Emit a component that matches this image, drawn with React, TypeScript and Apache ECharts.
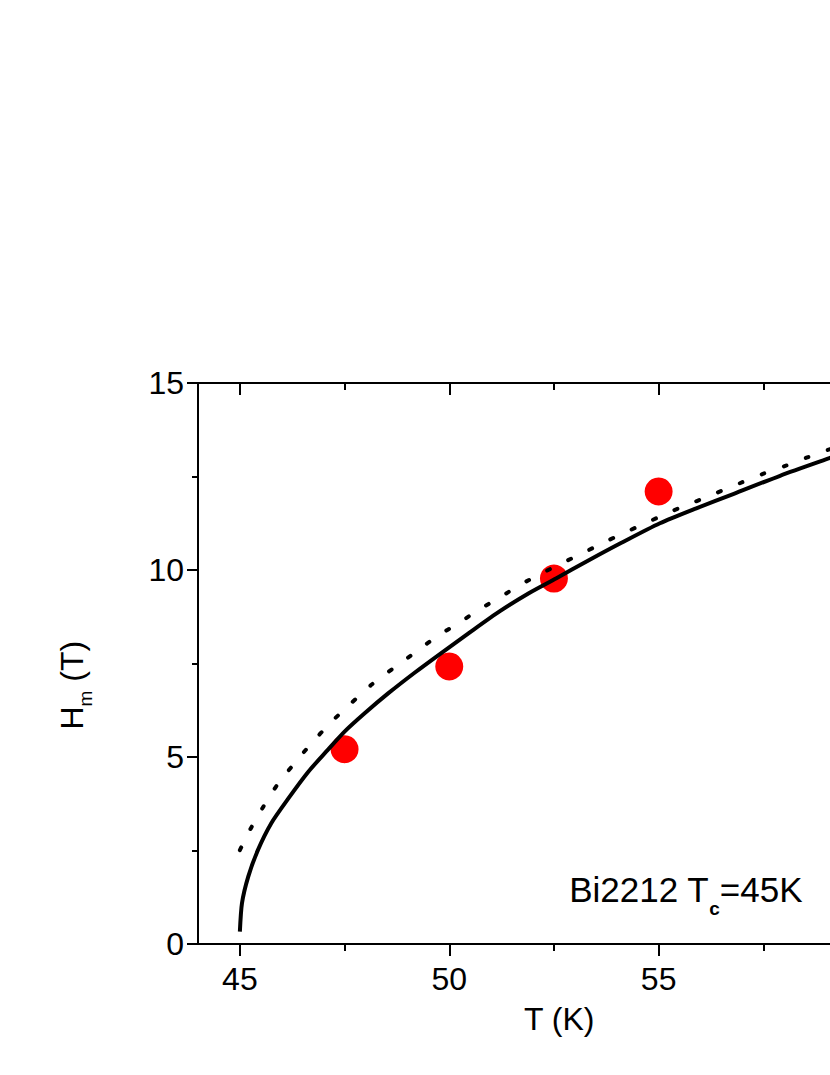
import React, { useEffect, useRef } from "react";
import * as echarts from "echarts";

// ---- data ----
const xMajorTicks = [45, 50, 55, 60];
const xLabelValues = [45, 50, 55];
const xMinorTicks = [47.5, 52.5, 57.5];

const pointT = [47.5, 50, 52.5, 55];
const pointH = [5.21, 7.42, 9.77, 12.1];

const solidT = [45.0, 45.05, 45.2, 45.43, 45.75, 46.15, 46.63, 47.1, 47.5, 47.98, 48.54, 49.18, 49.76, 50.5, 51.21, 51.9, 52.56, 53.3, 54.1, 55.03, 55.9, 56.78, 57.9, 59.08, 60.0];
const solidH = [0.33, 1.09, 1.8, 2.51, 3.23, 3.88, 4.6, 5.19, 5.68, 6.17, 6.7, 7.26, 7.74, 8.34, 8.9, 9.38, 9.78, 10.24, 10.72, 11.25, 11.65, 12.03, 12.52, 12.99, 13.35];

const dottedT = [45.0, 45.26, 45.56, 45.89, 46.28, 46.69, 47.15, 47.64, 48.14, 48.66, 49.18, 49.7, 50.21, 50.73, 51.24, 51.72, 52.24, 52.76, 53.29, 53.79, 54.31, 54.82, 55.33, 55.86, 56.38, 56.94, 57.49, 58.04, 58.55, 59.04, 60.0];
const dottedH = [2.51, 3.09, 3.67, 4.25, 4.8, 5.34, 5.9, 6.42, 6.93, 7.37, 7.79, 8.22, 8.57, 8.95, 9.29, 9.62, 9.93, 10.22, 10.51, 10.79, 11.06, 11.32, 11.58, 11.82, 12.06, 12.32, 12.57, 12.79, 13.01, 13.21, 13.6];

const xLabel = "T (K)";
const yLabelMain = "H";
const yLabelSub = "m";
const yLabelRest = " (T)";
const noteMain = "Bi2212 T";
const noteSub = "c";
const noteRest = "=45K";

const FONT = '"Liberation Sans", Arial, Helvetica, sans-serif';

function measure(text: string, size: number, weight: string = "normal"): number {
  const c = document.createElement("canvas").getContext("2d")!;
  c.font = `${weight} ${size}px "Liberation Sans", Arial, sans-serif`;
  return c.measureText(text).width;
}

function txt(text: string, x: number, y: number, size: number, weight = "normal") {
  return {
    type: "text",
    x,
    y,
    style: {
      text,
      fontSize: size,
      fontFamily: FONT,
      fontWeight: weight,
      fill: "#000",
      align: "left",
      textAlign: "left",
      verticalAlign: "middle",
      textVerticalAlign: "middle",
    },
  };
}

export default function App() {
  const ref = useRef<HTMLDivElement>(null);

  useEffect(() => {
    const el = ref.current!;
    const chart = echarts.init(el, null, { renderer: "svg" });
    const gridRect = { left: 198, top: 383, width: 670, height: 561, outerBoundsMode: "none", containLabel: false };
    const line = { color: "#000", width: 2 };

    const c = (s: number) => 0.3465 * s; // baseline -> middle offset

    const nX = 569.2;
    const nBase = 902;
    const wMain = measure(noteMain, 35);
    const wSub = measure(noteSub, 19, "bold");

    const wH = measure(yLabelMain, 32);
    const wm = measure(yLabelSub, 19);

    const option: any = {
      animation: false,
      backgroundColor: "#fff",
      grid: [gridRect, { ...gridRect }],
      xAxis: [
        {
          gridIndex: 0, type: "value", position: "bottom", min: 44, max: 60,
          axisLine: { show: true, onZero: false, lineStyle: line },
          axisTick: { show: true, customValues: xMajorTicks, length: 12, inside: false, lineStyle: line },
          axisLabel: { show: true, customValues: xLabelValues, fontSize: 32, color: "#000", fontFamily: FONT, margin: 19 },
          splitLine: { show: false },
        },
        {
          gridIndex: 0, type: "value", position: "top", min: 44, max: 60,
          axisLine: { show: true, onZero: false, lineStyle: line },
          axisTick: { show: true, customValues: xMajorTicks, length: 12, inside: true, lineStyle: line },
          axisLabel: { show: false },
          splitLine: { show: false },
        },
        {
          gridIndex: 1, type: "value", position: "bottom", min: 44, max: 60,
          axisLine: { show: false, onZero: false },
          axisTick: { show: true, customValues: xMinorTicks, length: 7, inside: false, lineStyle: line },
          axisLabel: { show: false },
          splitLine: { show: false },
        },
        {
          gridIndex: 1, type: "value", position: "top", min: 44, max: 60,
          axisLine: { show: false, onZero: false },
          axisTick: { show: true, customValues: xMinorTicks, length: 7, inside: true, lineStyle: line },
          axisLabel: { show: false },
          splitLine: { show: false },
        },
      ],
      yAxis: [
        {
          gridIndex: 0, type: "value", position: "left", min: 0, max: 15, interval: 5,
          axisLine: { show: true, onZero: false, lineStyle: line },
          axisTick: { show: true, length: 11, inside: false, lineStyle: line },
          minorTick: { show: true, splitNumber: 2, length: 6, lineStyle: line },
          axisLabel: { show: true, fontSize: 32, color: "#000", fontFamily: FONT, margin: 14 },
          splitLine: { show: false },
          minorSplitLine: { show: false },
        },
        { gridIndex: 1, type: "value", show: false, min: 0, max: 15 },
      ],
      series: [
        {
          type: "scatter",
          xAxisIndex: 0, yAxisIndex: 0,
          data: pointT.map((t, i) => [t, pointH[i]]),
          symbol: "circle",
          symbolSize: 28,
          itemStyle: { color: "#ff0000", opacity: 1 },
          z: 2,
        },
        {
          type: "line",
          xAxisIndex: 0, yAxisIndex: 0,
          data: solidT.map((t, i) => [t, solidH[i]]),
          showSymbol: false,
          symbol: "none",
          smooth: 0.25,
          lineStyle: { color: "#000", width: 4, join: "round" },
          z: 3,
        },
        {
          type: "line",
          xAxisIndex: 0, yAxisIndex: 0,
          data: dottedT.map((t, i) => [t, dottedH[i]]),
          showSymbol: false,
          symbol: "none",
          smooth: 0.25,
          lineStyle: { color: "#000", width: 4, type: [3, 20.5], cap: "round" },
          z: 3,
        },
      ],
      graphic: [
        txt(xLabel, 524, 1030 - c(32), 32),
        {
          type: "group",
          x: 83,
          y: 729.5,
          rotation: Math.PI / 2,
          children: [
            txt(yLabelMain, 0, -c(32), 32),
            txt(yLabelSub, wH, 9 - c(19), 19),
            txt(yLabelRest, wH + wm, -c(32), 32),
          ],
        },
        txt(noteMain, nX, nBase - c(35), 35),
        txt(noteSub, nX + wMain, 915 - c(19), 19, "bold"),
        txt(noteRest, nX + wMain + wSub, nBase - c(35), 35),
      ],
    };

    chart.setOption(option);
    return () => chart.dispose();
  }, []);

  return (
    <div
      ref={ref}
      style={{ position: "fixed", left: 0, top: 0, width: 830, height: 1075, overflow: "hidden", background: "#fff" }}
    />
  );
}
